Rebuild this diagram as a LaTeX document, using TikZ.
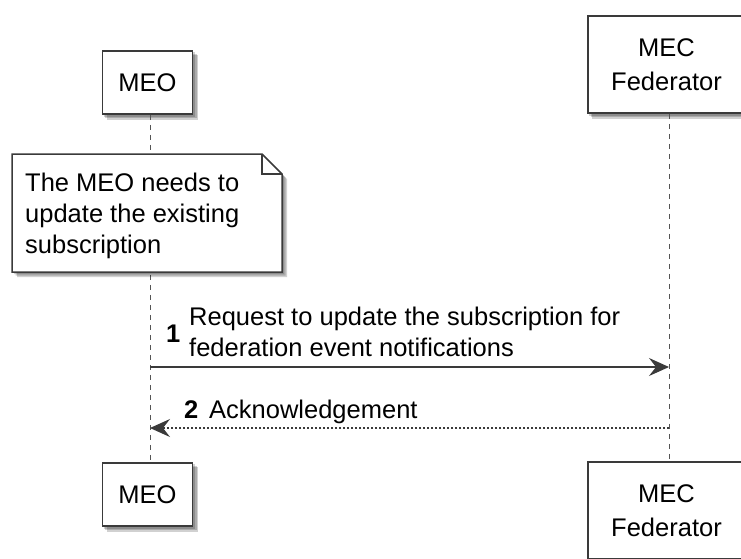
\documentclass[tikz,border=0pt]{standalone}
\usepackage{fontspec}
\setmainfont{Liberation Sans}
\usetikzlibrary{arrows.meta,backgrounds}
\definecolor{linec}{HTML}{3A3A3A}
\definecolor{lifec}{HTML}{555555}
\tikzset{
  txt/.style={font=\fontsize{25.5}{31}\selectfont, inner sep=0pt, text=black},
  partbox/.style={draw=linec, line width=1.5pt, fill=white, inner sep=0pt,
    font=\fontsize{25.5}{34}\selectfont, align=center},
  shadowc/.style={fill=black, opacity=0.18},
  lifeline/.style={draw=lifec, line width=1pt, dash pattern=on 5pt off 5pt},
  msg/.style={draw=linec, line width=1.2pt, -{Stealth[length=20pt,width=18pt,inset=7pt]}},
  reply/.style={msg, dash pattern=on 2pt off 2pt},
  notebox/.style={draw=linec, line width=1.5pt, fill=white},
}
\newcommand{\boxshadow}[1]{%
  \foreach \d in {2,3.5,5}{%
    \fill[shadowc] ([shift={(\d,\d)}]#1.north west) rectangle ([shift={(\d,\d)}]#1.south east);}}
\begin{document}
\begin{tikzpicture}[x=1pt,y=-1pt]
\useasboundingbox (0,0) rectangle (741,558);
\clip (0,0) rectangle (741,558);
% lifeline coordinates
\coordinate (L1) at (150,0);
\coordinate (L2) at (669,0);
% participants
\node[partbox, minimum width=90pt, minimum height=63pt] (meo) at (147.5,82.5) {MEO};
\node[partbox, minimum width=157pt, minimum height=97pt] (fed) at (666.5,64.5) {MEC\\Federator};
\node[partbox, minimum width=90pt, minimum height=63pt] (meob) at (147.5,494.5) {MEO};
\node[partbox, minimum width=157pt, minimum height=97pt] (fedb) at (666.5,510.5) {MEC\\Federator};
\begin{scope}[on background layer]
  \boxshadow{meo}
  \boxshadow{fed}
  \boxshadow{meob}
  \boxshadow{fedb}
\end{scope}
% lifelines
\draw[lifeline] (meo.south -| L1) -- (meob.north -| L1);
\draw[lifeline] (fed.south -| L2) -- (fedb.north -| L2);
% note
\foreach \d in {2,3.5,5}{%
  \fill[shadowc] (12+\d,154+\d) -- (262+\d,154+\d) -- (282+\d,174+\d) -- (282+\d,272+\d) -- (12+\d,272+\d) -- cycle;}
\draw[notebox] (12,154) -- (262,154) -- (282,174) -- (282,272) -- (12,272) -- cycle;
\draw[linec, line width=1.2pt] (262,154) -- (262,174) -- (282,174);
\node[txt, anchor=base west, align=left] (note) at (25,253) {The MEO needs to\\update the existing\\subscription};
% messages
\coordinate (m1s) at (150,367);
\coordinate (m1e) at (669,367);
\coordinate (m2s) at (669,428);
\coordinate (m2e) at (150,428);
\draw[msg] (m1s) -- (m1e);
\draw[reply] (m2s) -- (m2e);
\node[txt, anchor=base west, font=\fontsize{25.5}{31}\selectfont\bfseries] (n1lbl) at (166,342) {1};
\node[txt, anchor=base west, align=left] (m1lbl) at (189,356) {Request to update the subscription for\\federation event notifications};
\node[txt, anchor=base west, font=\fontsize{25.5}{31}\selectfont\bfseries] (n2lbl) at (184,418) {2};
\node[txt, anchor=base west] (m2lbl) at (209,418) {Acknowledgement};
\end{tikzpicture}
\end{document}
